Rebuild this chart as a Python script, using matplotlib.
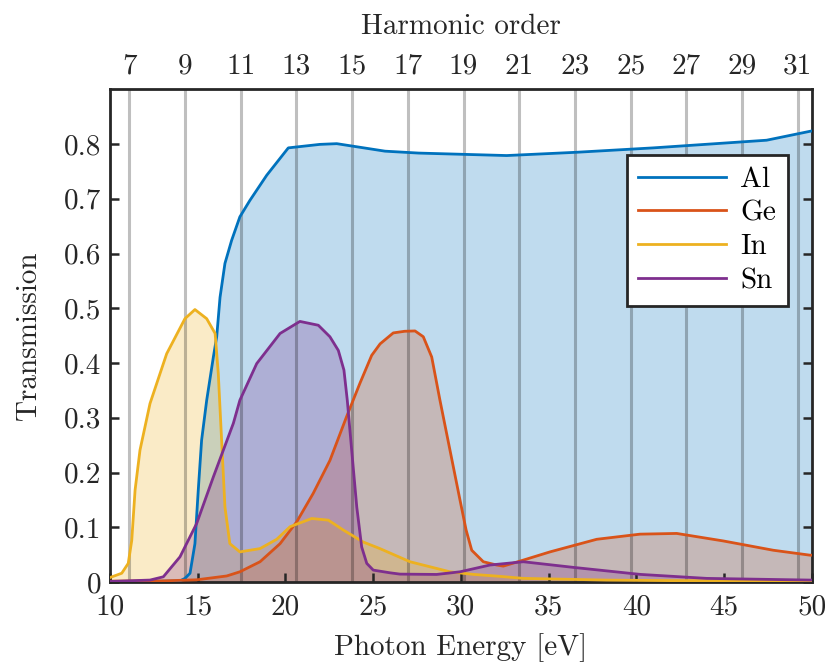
import matplotlib
matplotlib.use("Agg")
import matplotlib.pyplot as plt
import numpy as np

plt.rcParams["font.family"] = "serif"
plt.rcParams["font.serif"] = ["cmr10"]
plt.rcParams["mathtext.fontset"] = "cm"
plt.rcParams["axes.formatter.use_mathtext"] = True

# Filter transmission curves (photon energy in eV, transmission)
al_e = [10.0, 12.0, 14.0, 14.28, 14.57, 14.85, 15.04, 15.23, 15.52, 15.9, 16.09, 16.28,
        16.56, 16.94, 17.41, 17.98, 18.94, 20.17, 21.97, 22.93, 25.68, 27.6, 32.61,
        36.6, 40.96, 47.42, 50.0]
al_t = [0.001, 0.001, 0.002, 0.0066, 0.016, 0.07, 0.168, 0.259, 0.332, 0.411, 0.448, 0.52,
        0.582, 0.624, 0.667, 0.697, 0.743, 0.793, 0.7994, 0.8007, 0.787, 0.7835, 0.779,
        0.785, 0.793, 0.807, 0.824]

ge_e = [10.0, 13.0, 14.95, 16.66, 17.41, 18.56, 19.70, 20.65, 21.59, 22.54, 23.49,
        24.25, 24.92, 25.4, 26.15, 26.8, 27.39, 27.86, 28.34, 28.81, 29.38, 29.95, 30.3,
        30.62, 31.28, 32.04, 32.42, 33.56, 35.08, 37.74, 40.21, 42.30, 44.95, 47.80, 49.89, 50.0]
ge_t = [0.0015, 0.002, 0.004, 0.011, 0.0186, 0.037, 0.070, 0.11, 0.162, 0.222, 0.302,
        0.363, 0.414, 0.435, 0.455, 0.458, 0.4586, 0.448, 0.411, 0.332, 0.241, 0.15, 0.095,
        0.058, 0.037, 0.031, 0.029, 0.04, 0.055, 0.078, 0.0874, 0.0887, 0.075, 0.058, 0.049, 0.049]

in_e = [10.0, 10.68, 11.05, 11.25, 11.44, 11.72, 12.29, 13.24, 14.28, 14.85, 15.52,
        16.0, 16.18, 16.37, 16.56, 16.84, 17.41, 18.56, 19.51, 20.27, 21.5, 22.45, 23.3,
        24.44, 25.39, 27.10, 29.38, 30.71, 32.04, 33.56, 38.3, 42.0, 50.0]
in_t = [0.008, 0.016, 0.034, 0.076, 0.168, 0.241, 0.326, 0.417, 0.481, 0.4977, 0.481,
        0.454, 0.381, 0.259, 0.137, 0.070, 0.055, 0.061, 0.078, 0.101, 0.116, 0.113, 0.095,
        0.073, 0.061, 0.037, 0.0186, 0.0139, 0.0108, 0.0066, 0.0035, 0.0025, 0.002]

sn_e = [10.0, 12.29, 13.05, 14.0, 14.95, 15.9, 17.04, 17.41, 18.37, 19.7, 20.83, 21.88,
        22.54, 23.02, 23.34, 23.53, 23.78, 24.07, 24.35, 24.64, 25.01, 25.96, 26.53, 28.62,
        29.95, 31.66, 33.56, 36.41, 40.21, 44.0, 49.89, 50.0]
sn_t = [0.001, 0.0035, 0.0095, 0.046, 0.107, 0.192, 0.29, 0.332, 0.399, 0.454, 0.476, 0.469,
        0.448, 0.423, 0.387, 0.332, 0.241, 0.137, 0.064, 0.034, 0.0217, 0.0168, 0.0144, 0.0138,
        0.0186, 0.031, 0.037, 0.0267, 0.0139, 0.0066, 0.0035, 0.0035]

series = [
    ("Al", al_e, al_t, "#0072BD"),
    ("Ge", ge_e, ge_t, "#D95319"),
    ("In", in_e, in_t, "#EDB120"),
    ("Sn", sn_e, sn_t, "#7E2F8E"),
]

# Harmonics of the driving laser
photon_e0 = 1.587
harmonic_orders = list(range(7, 32, 2))
harmonic_energies = [q * photon_e0 for q in harmonic_orders]

energy_ticks = [10, 15, 20, 25, 30, 35, 40, 45, 50]
trans_ticks = [0, 0.1, 0.2, 0.3, 0.4, 0.5, 0.6, 0.7, 0.8]
trans_labels = ["0", "0.1", "0.2", "0.3", "0.4", "0.5", "0.6", "0.7", "0.8"]

fs = 21
fig = plt.figure(figsize=(8.25, 6.64), dpi=100)
ax = fig.add_axes([0.1331, 0.1235, 0.9841 - 0.1331, 0.8655 - 0.1235])

for name, e, t, c in series:
    ax.fill_between(e, t, 0, color=c, alpha=0.25, lw=0, zorder=1)
for q_e in harmonic_energies:
    ax.axvline(q_e, color="k", alpha=0.25, lw=2.2, zorder=2)
for name, e, t, c in series:
    ax.plot(e, t, color=c, lw=2.0, label=name, zorder=3)

ax.set_xlim(10, 50)
ax.set_ylim(0, 0.9)
ax.set_xticks(energy_ticks)
ax.set_xticklabels([str(v) for v in energy_ticks])
ax.set_yticks(trans_ticks)
ax.set_yticklabels(trans_labels)
ax.tick_params(axis="both", direction="in", length=6.5, width=1.8, labelsize=fs,
               color="#262626", labelcolor="#262626")
ax.tick_params(axis="x", pad=9)
ax.tick_params(axis="y", pad=6, right=True)
for sp in ax.spines.values():
    sp.set_linewidth(2.0)
    sp.set_color("#262626")
ax.set_xlabel("Photon Energy [eV]", fontsize=fs, color="#262626", labelpad=9)
ax.set_ylabel("Transmission", fontsize=fs, color="#262626", labelpad=16)

top = ax.twiny()
top.set_xlim(ax.get_xlim())
top.set_xticks(harmonic_energies)
top.set_xticklabels([str(q) for q in harmonic_orders])
top.tick_params(axis="x", length=0, labelsize=fs, pad=7, labelcolor="#262626")
for sp in top.spines.values():
    sp.set_visible(False)
top.set_xlabel("Harmonic order", fontsize=fs, color="#262626", labelpad=14)

leg = ax.legend(loc="upper right", bbox_to_anchor=(0.966, 0.867), fontsize=fs,
                frameon=True, fancybox=False, framealpha=1.0, edgecolor="#262626",
                handlelength=3.0, handletextpad=0.5, borderpad=0.4, labelspacing=0.25,
                borderaxespad=0)
leg.get_frame().set_linewidth(2.0)
leg.set_zorder(5)

fig.savefig("out.png", dpi=100)
